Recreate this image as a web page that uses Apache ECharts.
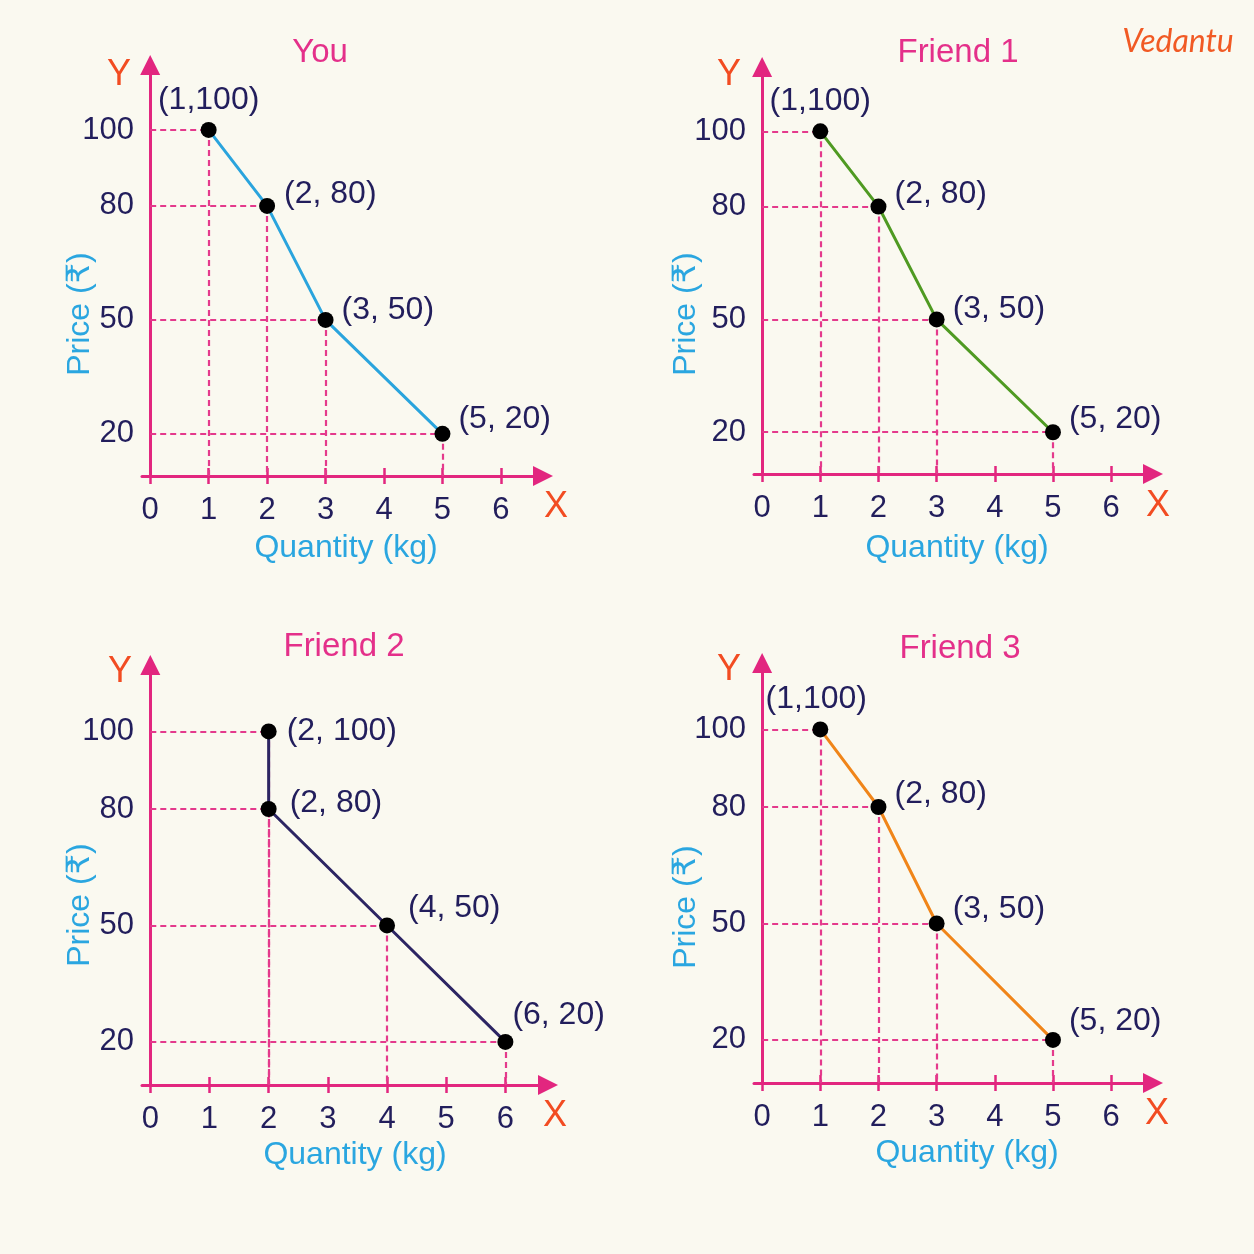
<!DOCTYPE html>
<html>
<head>
<meta charset="utf-8">
<title>Demand schedules</title>
<script src="https://cdn.jsdelivr.net/npm/echarts@6/dist/echarts.min.js"></script>
<style>
  html, body { margin: 0; padding: 0; background: #faf9f0; }
  #main { width: 1254px; height: 1254px; }
</style>
</head>
<body>
<div id="main"></div>
<script>
// chart data
var titles = ['You', 'Friend 1', 'Friend 2', 'Friend 3'];

var youQty = [1, 2, 3, 5];
var youPrice = [100, 80, 50, 20];
var youLabels = ['(1,100)', '(2, 80)', '(3, 50)', '(5, 20)'];

var f1Qty = [1, 2, 3, 5];
var f1Price = [100, 80, 50, 20];
var f1Labels = ['(1,100)', '(2, 80)', '(3, 50)', '(5, 20)'];

var f2Qty = [2, 2, 4, 6];
var f2Price = [100, 80, 50, 20];
var f2Labels = ['(2, 100)', '(2, 80)', '(4, 50)', '(6, 20)'];

var f3Qty = [1, 2, 3, 5];
var f3Price = [100, 80, 50, 20];
var f3Labels = ['(1,100)', '(2, 80)', '(3, 50)', '(5, 20)'];

var xTicks = [0, 1, 2, 3, 4, 5, 6];
var yTicks = [20, 50, 80, 100];

// label placement (style only): [position, dx, dy]
var youPlace = [['top', 0, 2], ['right', 1, -12], ['right', 0, -10], ['right', 0, -15]];
var f1Place = [['top', 0, 2], ['right', 0, -12], ['right', 0, -10], ['right', 0, -13]];
var f2Place = [['right', 2, 0], ['right', 5, -6], ['right', 5, -17], ['right', -9, -27]];
var f3Place = [['top', -4, 2], ['right', 0, -13], ['right', 0, -14], ['right', 0, -19]];

var X_MIN = -0.14, X_MAX = 6.72;
var Y_MIN = 8.9, Y_MAX = 117.1;

var FONT = '"Liberation Sans", "DejaVu Sans", "Noto Sans", sans-serif';
var PINK = '#e2267f';
var NAVY = '#221e5c';
var BLUE = '#2aa6e0';
var RED = '#f24c22';
var TITLE = '#e4308a';

var panels = [
  { qty: youQty, price: youPrice, labels: youLabels, place: youPlace, color: '#2aa4dd',
    grid: { left: 142, top: 65, width: 401, height: 411 },
    titleAt: [320, 53], yAt: [119, 75], xAt: [556, 507], priceAt: [80, 314], qtyAt: [346, 548] },
  { qty: f1Qty, price: f1Price, labels: f1Labels, place: f1Place, color: '#4f9a22',
    grid: { left: 754, top: 67, width: 399, height: 407 },
    titleAt: [958, 53], yAt: [729, 75], xAt: [1158, 506], priceAt: [686, 314], qtyAt: [957, 548] },
  { qty: f2Qty, price: f2Price, labels: f2Labels, place: f2Place, color: '#2c2563',
    grid: { left: 142, top: 665, width: 406, height: 420 },
    titleAt: [344, 647], yAt: [120, 672], xAt: [555, 1116], priceAt: [80, 905], qtyAt: [355, 1155] },
  { qty: f3Qty, price: f3Price, labels: f3Labels, place: f3Place, color: '#f08519',
    grid: { left: 754, top: 663, width: 399, height: 420 },
    titleAt: [960, 649], yAt: [729, 670], xAt: [1157, 1114], priceAt: [686, 907], qtyAt: [967, 1153] }
];

function txt(text, at, size, color, rot, extra) {
  var el = {
    type: 'text', x: at[0], y: at[1], rotation: rot || 0, silent: true,
    style: { text: text, fill: color, fontSize: size, fontFamily: FONT, align: 'center', verticalAlign: 'middle' }
  };
  if (extra) for (var k in extra) el.style[k] = extra[k];
  return el;
}

var grids = [], xAxes = [], yAxes = [], series = [], graphics = [];

panels.forEach(function (p, k) {
  grids.push(p.grid);

  // main x axis: line, arrow, outward ticks, labels
  xAxes.push({
    type: 'value', gridIndex: k, position: 'bottom', min: X_MIN, max: X_MAX,
    splitLine: { show: false },
    axisLine: { show: true, onZero: false, symbol: ['none', 'triangle'], symbolSize: [20, 20],
      lineStyle: { color: PINK, width: 3 } },
    axisTick: { show: true, length: 8, customValues: xTicks, lineStyle: { color: PINK, width: 2.5 } },
    axisLabel: { show: true, customValues: xTicks, margin: 19, fontSize: 31, color: NAVY, fontFamily: FONT }
  });
  // second x axis, only for the inner half of the crossing ticks
  xAxes.push({
    type: 'value', gridIndex: k, position: 'bottom', min: X_MIN, max: X_MAX,
    splitLine: { show: false },
    axisLine: { show: false, onZero: false },
    axisTick: { show: true, inside: true, length: 8, customValues: xTicks.slice(1), lineStyle: { color: PINK, width: 2.5 } },
    axisLabel: { show: false }
  });

  yAxes.push({
    type: 'value', gridIndex: k, min: Y_MIN, max: Y_MAX,
    splitLine: { show: false },
    axisLine: { show: true, onZero: true, onZeroAxisIndex: 2 * k, symbol: ['none', 'triangle'], symbolSize: [20, 20],
      lineStyle: { color: PINK, width: 3 } },
    axisTick: { show: false },
    axisLabel: { show: true, customValues: yTicks, margin: 8, fontSize: 31, color: NAVY, fontFamily: FONT }
  });

  var guides = [];
  p.qty.forEach(function (q, i) {
    guides.push([{ coord: [0, p.price[i]] }, { coord: [q, p.price[i]] }]);
    guides.push([{ coord: [q, p.price[i]] }, { coord: [q, Y_MIN] }]);
  });

  series.push({
    type: 'line', xAxisIndex: 2 * k, yAxisIndex: k, z: 3,
    symbol: 'circle', symbolSize: 16,
    itemStyle: { color: '#000' },
    lineStyle: { color: p.color, width: 3 },
    emphasis: { disabled: true },
    label: {
      show: true, color: NAVY, fontSize: 32, fontFamily: FONT, distance: 8,
      formatter: function (prm) { return p.labels[prm.dataIndex]; }
    },
    data: p.qty.map(function (q, i) {
      var pl = p.place[i];
      return { value: [q, p.price[i]], label: { position: pl[0], offset: [pl[1], pl[2]] } };
    }),
    markLine: {
      silent: true, z: 1, symbol: ['none', 'none'], animation: false,
      label: { show: false },
      lineStyle: { color: '#e43a8c', width: 2.2, type: [6, 4] },
      data: guides
    }
  });

  graphics.push(txt(titles[k], p.titleAt, 33, TITLE));
  graphics.push(txt('Y', p.yAt, 36, RED));
  graphics.push(txt('X', p.xAt, 36, RED));
  graphics.push(txt('Price (₹)', p.priceAt, 32, BLUE, Math.PI / 2));
  graphics.push(txt('Quantity (kg)', p.qtyAt, 32, BLUE));
});

graphics.push(txt('Vedantu', [1178, 42], 32, '#f15a24', 0, { fontStyle: 'italic', fontFamily: 'Lato, "DejaVu Sans", sans-serif' }));

var chart = echarts.init(document.getElementById('main'));
chart.setOption({
  backgroundColor: '#faf9f0',
  animation: false,
  grid: grids,
  xAxis: xAxes,
  yAxis: yAxes,
  series: series,
  graphic: graphics
});
</script>
</body>
</html>
